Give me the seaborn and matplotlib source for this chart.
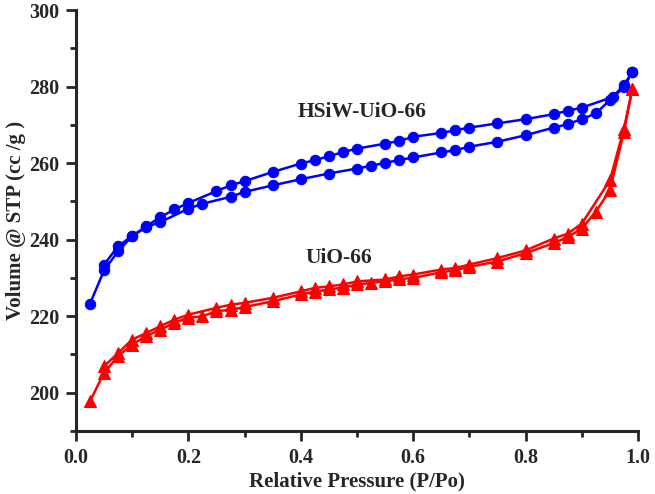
import matplotlib
matplotlib.use("Agg")
import matplotlib.pyplot as plt
import numpy as np
import pandas as pd
import seaborn as sns
from matplotlib.ticker import MultipleLocator

# HSiW-UiO-66, adsorption (lower branch) and desorption (upper branch)
hsiw_ads_p = [0.025, 0.05, 0.075, 0.1, 0.125, 0.15, 0.2, 0.225, 0.275, 0.3, 0.35, 0.4,
              0.45, 0.5, 0.525, 0.55, 0.575, 0.6, 0.65, 0.675, 0.7, 0.75, 0.8, 0.85,
              0.875, 0.9, 0.925, 0.95, 0.975, 0.99]
hsiw_ads_v = [223.3, 232.0, 237.0, 240.9, 243.3, 244.6, 248.1, 249.4, 251.2, 252.5, 254.2, 255.8,
              257.3, 258.6, 259.3, 260.1, 260.8, 261.5, 262.8, 263.4, 264.3, 265.6, 267.3, 269.3,
              270.2, 271.5, 273.0, 276.5, 279.8, 283.9]
hsiw_des_p = [0.99, 0.975, 0.955, 0.9, 0.875, 0.85, 0.8, 0.75, 0.7, 0.675, 0.65, 0.6, 0.575,
              0.55, 0.5, 0.475, 0.45, 0.425, 0.4, 0.35, 0.3, 0.275, 0.25, 0.2, 0.175, 0.15,
              0.125, 0.1, 0.075, 0.05]
hsiw_des_v = [283.9, 280.4, 277.3, 274.5, 273.7, 272.8, 271.5, 270.4, 269.3, 268.6, 267.9, 266.9, 265.8,
              265.1, 263.8, 262.9, 261.8, 260.8, 259.9, 257.7, 255.3, 254.2, 252.7, 249.6, 247.9, 245.9,
              243.5, 241.0, 238.3, 233.5]

# UiO-66
uio_ads_p = [0.025, 0.05, 0.075, 0.1, 0.125, 0.15, 0.175, 0.2, 0.225, 0.25, 0.275, 0.3, 0.35,
             0.4, 0.425, 0.45, 0.475, 0.5, 0.525, 0.55, 0.575, 0.6, 0.65, 0.675, 0.7, 0.75,
             0.8, 0.85, 0.875, 0.9, 0.925, 0.95, 0.975, 0.99]
uio_ads_v = [197.8, 205.2, 209.6, 212.6, 214.8, 216.5, 218.3, 219.6, 220.0, 221.3, 221.7, 222.4, 223.9,
             225.7, 226.4, 227.0, 227.5, 228.3, 228.7, 229.1, 229.7, 230.0, 231.5, 232.0, 232.9, 234.3,
             236.5, 239.1, 240.7, 242.9, 247.3, 252.9, 268.2, 279.5]
uio_des_p = [0.99, 0.975, 0.95, 0.9, 0.875, 0.85, 0.8, 0.75, 0.7, 0.675, 0.65, 0.6, 0.575, 0.55,
             0.5, 0.475, 0.45, 0.425, 0.4, 0.35, 0.3, 0.275, 0.25, 0.2, 0.175, 0.15, 0.125,
             0.1, 0.075, 0.05]
uio_des_v = [279.5, 269.0, 255.5, 244.2, 241.6, 240.3, 237.2, 235.2, 233.5, 232.6, 232.2, 230.9, 230.4, 229.6,
             229.1, 228.3, 227.8, 227.4, 226.5, 224.8, 223.5, 223.0, 222.2, 220.4, 219.1, 217.4, 215.6,
             213.9, 210.4, 206.9]

sns.set_style("ticks")
plt.rcParams["font.family"] = ["Liberation Serif", "DejaVu Serif"]
plt.rcParams["font.weight"] = "bold"

fig = plt.figure(figsize=(6.55, 4.94), dpi=100)
ax = fig.add_axes([0.116, 0.1275, 0.858, 0.852])

branches = [
    (hsiw_ads_p, hsiw_ads_v, "#0000ff", "o", 7.5),
    (hsiw_des_p, hsiw_des_v, "#0000ff", "o", 7.5),
    (uio_ads_p, uio_ads_v, "#ff0000", "^", 8),
    (uio_des_p, uio_des_v, "#ff0000", "^", 8),
]
for p, v, color, marker, ms in branches:
    df = pd.DataFrame({"P": p, "V": v})
    sns.lineplot(data=df, x="P", y="V", sort=False, estimator=None, ax=ax,
                 color=color, marker=marker, markersize=ms, markeredgecolor=color,
                 linewidth=1.8)

ax.set_xlim(0.0, 1.0)
ax.set_ylim(190, 300)
ax.xaxis.set_major_locator(MultipleLocator(0.2))
ax.xaxis.set_minor_locator(MultipleLocator(0.1))
ax.yaxis.set_major_locator(MultipleLocator(20))
ax.yaxis.set_minor_locator(MultipleLocator(10))
ax.set_xticks(np.arange(0, 1.01, 0.2))
ax.set_xticklabels([f"{t:.1f}" for t in np.arange(0, 1.01, 0.2)])
ax.set_yticks([200, 220, 240, 260, 280, 300])
ax.tick_params(which="major", direction="out", length=7, width=2, labelsize=14.5, pad=5)
ax.tick_params(which="minor", direction="out", length=4, width=2)
for lab in ax.get_xticklabels() + ax.get_yticklabels():
    lab.set_fontweight("bold")

sns.despine(ax=ax)
for side in ["left", "bottom"]:
    ax.spines[side].set_linewidth(2.2)

ax.set_xlabel("Relative Pressure (P/Po)", fontsize=15, fontweight="bold", labelpad=3)
ax.set_ylabel("Volume @ STP (cc /g )", fontsize=15, fontweight="bold", labelpad=2)

ax.text(0.51, 273.4, "HSiW-UiO-66", fontsize=15.5, fontweight="bold", ha="center", va="center")
ax.text(0.467, 235.2, "UiO-66", fontsize=15.5, fontweight="bold", ha="center", va="center")

fig.savefig("out.png", dpi=100)
